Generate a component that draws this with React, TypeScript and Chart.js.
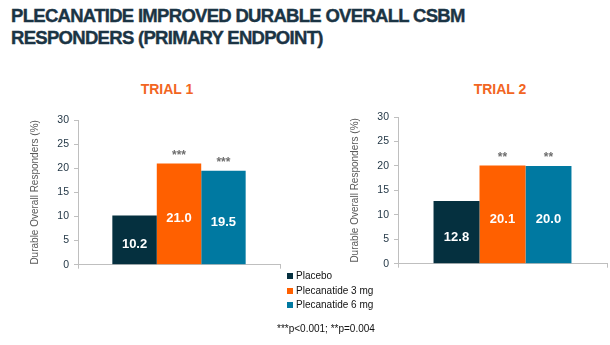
import React, { useEffect, useRef } from "react";
import { Chart, registerables } from "chart.js";
Chart.register(...registerables);

const SERIES = ["Placebo", "Plecanatide 3 mg", "Plecanatide 6 mg"];
const COLORS = ["#05303f", "#ff6000", "#0079a1"];
const TRIAL1 = [10.2, 21.0, 19.5];
const TRIAL2 = [12.8, 20.1, 20.0];
const SIG1 = ["", "***", "***"];
const SIG2 = ["", "**", "**"];
const Y_MIN = 0;
const Y_MAX = 30;
const Y_STEP = 5;
const Y_TITLE = "Durable Overall Responders (%)";
const TITLE_LINES = ["PLECANATIDE IMPROVED DURABLE OVERALL CSBM", "RESPONDERS (PRIMARY ENDPOINT)"];
const TRIAL_TITLES = ["TRIAL 1", "TRIAL 2"];
const FOOTNOTE = "***p<0.001; **p=0.004";

const FONT = "'Liberation Sans', Arial, sans-serif";

function makeLabelPlugin(sig: string[]) {
  return {
    id: "barLabels",
    afterDatasetsDraw(chart: any) {
      const ctx = chart.ctx;
      chart.data.datasets.forEach((ds: any, i: number) => {
        const meta = chart.getDatasetMeta(i);
        meta.data.forEach((bar: any, j: number) => {
          const v = ds.data[j];
          const { x, y, base } = bar.getProps(["x", "y", "base"], true);
          ctx.save();
          ctx.textAlign = "center";
          ctx.textBaseline = "middle";
          ctx.fillStyle = "#ffffff";
          ctx.font = `bold 13px ${FONT}`;
          ctx.fillText(v.toFixed(1), x, (y + base) / 2 + 5);
          if (sig[i]) {
            ctx.fillStyle = "#6e6e6e";
            ctx.font = `bold 12px ${FONT}`;
            ctx.fillText(sig[i], x, y - 8);
          }
          ctx.restore();
        });
      });
    },
  };
}

function TrialChart(props: { values: number[]; sig: string[]; padRight: number; height: number }) {
  const ref = useRef<HTMLCanvasElement | null>(null);
  useEffect(() => {
    if (!ref.current) return;
    const chart = new Chart(ref.current, {
      type: "bar",
      data: {
        labels: [""],
        datasets: SERIES.map((name, i) => ({
          label: name,
          data: [props.values[i]],
          backgroundColor: COLORS[i],
          borderWidth: 0,
          categoryPercentage: 0.66,
          barPercentage: 1,
        })),
      },
      options: {
        responsive: false,
        animation: false,
        devicePixelRatio: 1,
        layout: { padding: { top: 20, right: props.padRight, left: 0, bottom: 0 } },
        plugins: { legend: { display: false }, tooltip: { enabled: false }, title: { display: false } },
        scales: {
          x: {
            grid: { display: true, drawOnChartArea: false, drawTicks: true, tickLength: 4, color: "#bfbfbf", offset: true },
            border: { color: "#bfbfbf" },
            ticks: { display: false },
            afterFit: (s: any) => {
              s.height = 7;
            },
          },
          y: {
            min: Y_MIN,
            max: Y_MAX,
            ticks: { stepSize: Y_STEP, color: "#1f3342", font: { size: 10.5, family: FONT }, padding: 5 },
            grid: { display: true, drawOnChartArea: false, drawTicks: true, tickLength: 4, color: "#bfbfbf" },
            border: { color: "#bfbfbf" },
            title: {
              display: true,
              text: Y_TITLE,
              color: "#595959",
              font: { size: 10, family: FONT },
              padding: { top: 29, bottom: 0 },
            },
            afterFit: (s: any) => {
              s.width = 78;
            },
          },
        },
      },
      plugins: [makeLabelPlugin(props.sig)],
    } as any);
    return () => chart.destroy();
  }, []);
  return <canvas ref={ref} width={290} height={props.height} style={{ width: 290, height: props.height, display: "block" }} />;
}

export default function App() {
  const abs = (o: any) => ({ position: "absolute" as const, ...o });
  return (
    <div style={{ position: "fixed", left: 0, top: 0, width: 610, height: 345, background: "#fff", fontFamily: FONT, overflow: "hidden" }}>
      <div style={abs({ left: 11, top: 5, fontSize: 18.5, lineHeight: "22.3px", fontWeight: 700, letterSpacing: "-0.7px", color: "#1b3444", whiteSpace: "nowrap", WebkitTextStroke: "0.4px #1b3444" })}>
        {TITLE_LINES.map((l) => (
          <div key={l}>{l}</div>
        ))}
      </div>
      <div style={abs({ left: 117, width: 100, top: 82, textAlign: "center", fontSize: 14, lineHeight: "14px", fontWeight: 700, color: "#f26522" })}>{TRIAL_TITLES[0]}</div>
      <div style={abs({ left: 450, width: 100, top: 82, textAlign: "center", fontSize: 14, lineHeight: "14px", fontWeight: 700, color: "#f26522" })}>{TRIAL_TITLES[1]}</div>
      <div style={abs({ left: 0, top: 100 })}>
        <TrialChart values={TRIAL1} sig={SIG1} padRight={10} height={176} />
      </div>
      <div style={abs({ left: 320, top: 97 })}>
        <TrialChart values={TRIAL2} sig={SIG2} padRight={3} height={178} />
      </div>
      {SERIES.map((s, i) => (
        <div key={s} style={abs({ left: 287, top: [276, 290.5, 304.5][i] - 7, height: 14, lineHeight: "14px", fontSize: 10, color: "#111", whiteSpace: "nowrap", display: "flex", alignItems: "center" })}>
          <span style={{ display: "inline-block", width: 6, height: 6, background: COLORS[i], marginRight: 3 }} />
          {s}
        </div>
      ))}
      <div style={abs({ left: 277, top: 322, height: 14, lineHeight: "14px", fontSize: 10, color: "#111", whiteSpace: "nowrap" })}>{FOOTNOTE}</div>
    </div>
  );
}
